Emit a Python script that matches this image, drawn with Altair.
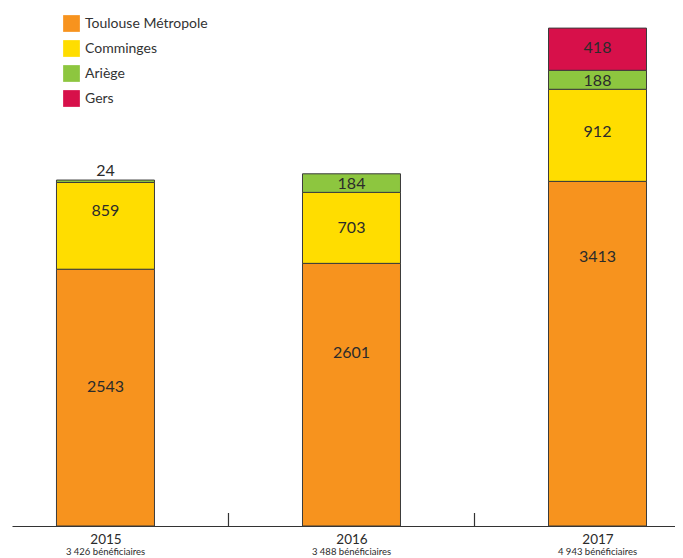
import altair as alt
import pandas as pd

# ---- data ----
years = [2015, 2016, 2017]
sublabels = ["3 426 bénéficiaires", "3 488 bénéficiaires", "4 943 bénéficiaires"]
series = ["Toulouse Métropole", "Comminges", "Ariège", "Gers"]
toulouse = [2543, 2601, 3413]
comminges = [859, 703, 912]
ariege = [24, 184, 188]
gers = [None, None, 418]

# ---- styles / label placement (fraction of segment height, from its bottom) ----
colors = ["#F7931E", "#FFDD00", "#8DC63F", "#D7104A"]
toulouse_pos = [0.54, 0.66, 0.78]
comminges_pos = [0.67, 0.50, 0.54]
ariege_pos = [4.7, 0.46, 0.45]
gers_pos = [None, None, 0.53]

FONT = "Lato"
INK = "#2b2b2b"

rows = []
for order, (name, vals, pos) in enumerate(zip(
        series, [toulouse, comminges, ariege, gers],
        [toulouse_pos, comminges_pos, ariege_pos, gers_pos])):
    for y, v, p in zip(years, vals, pos):
        if v is not None:
            rows.append({"year": y, "serie": name, "value": v, "order": order, "frac": p})
df = pd.DataFrame(rows)

df_years = pd.DataFrame({"year": years, "sub": sublabels})
df_ticks = pd.DataFrame({"mid": [(a + b) / 2 for a, b in zip(years[:-1], years[1:])]})

x_scale = alt.Scale(domain=[2014.62, 2017.315], nice=False, zero=False, padding=0)
y_scale = alt.Scale(domain=[0, 5130], nice=False, padding=0)

bars = alt.Chart(df).mark_bar(size=98, stroke="#3b3b3b", strokeWidth=1).encode(
    x=alt.X("year:Q", scale=x_scale, title=None,
            axis=alt.Axis(values=years, format="d", ticks=False, tickSize=0, grid=False,
                          domainColor="#333333", domainWidth=1.2,
                          labelFont=FONT, labelFontSize=13.5, labelColor=INK,
                          labelPadding=6)),
    y=alt.Y("value:Q", stack="zero", scale=y_scale, axis=None),
    color=alt.Color("serie:N", scale=alt.Scale(domain=series, range=colors),
                    legend=alt.Legend(title=None, orient="none", legendX=51, legendY=7,
                                      symbolType="square", symbolSize=280,
                                      symbolStrokeWidth=0, labelFont=FONT,
                                      labelFontSize=14, labelColor="#333333",
                                      rowPadding=8, labelOffset=5, padding=0)),
    order=alt.Order("order:Q", sort="ascending"),
)

labels = alt.Chart(df).transform_stack(
    stack="value", groupby=["year"], as_=["v0", "v1"],
    sort=[alt.SortField("order", "ascending")],
).transform_calculate(
    ly="datum.v0 + datum.frac * datum.value"
).mark_text(font=FONT, fontSize=16, color=INK, baseline="middle").encode(
    x=alt.X("year:Q", scale=x_scale),
    y=alt.Y("ly:Q", scale=y_scale),
    text=alt.Text("value:Q", format="d"),
)

ticks = alt.Chart(df_ticks).mark_rule(color="#333333", strokeWidth=1.2).encode(
    x=alt.X("mid:Q", scale=x_scale),
    y=alt.value(518),
    y2=alt.value(505),
)

subs = alt.Chart(df_years).mark_text(font=FONT, fontSize=9.5, color=INK,
                                      baseline="alphabetic").encode(
    x=alt.X("year:Q", scale=x_scale),
    y=alt.value(547),
    text="sub:N",
)

chart = alt.layer(bars, ticks, labels, subs).properties(
    width=663, height=518,
    autosize=alt.AutoSizeParams(type="none"),
    padding={"left": 4, "top": 0, "right": 0, "bottom": 40},
).configure_view(stroke=None)

chart.save("out.html", embed_options={"renderer": "svg", "actions": False})
